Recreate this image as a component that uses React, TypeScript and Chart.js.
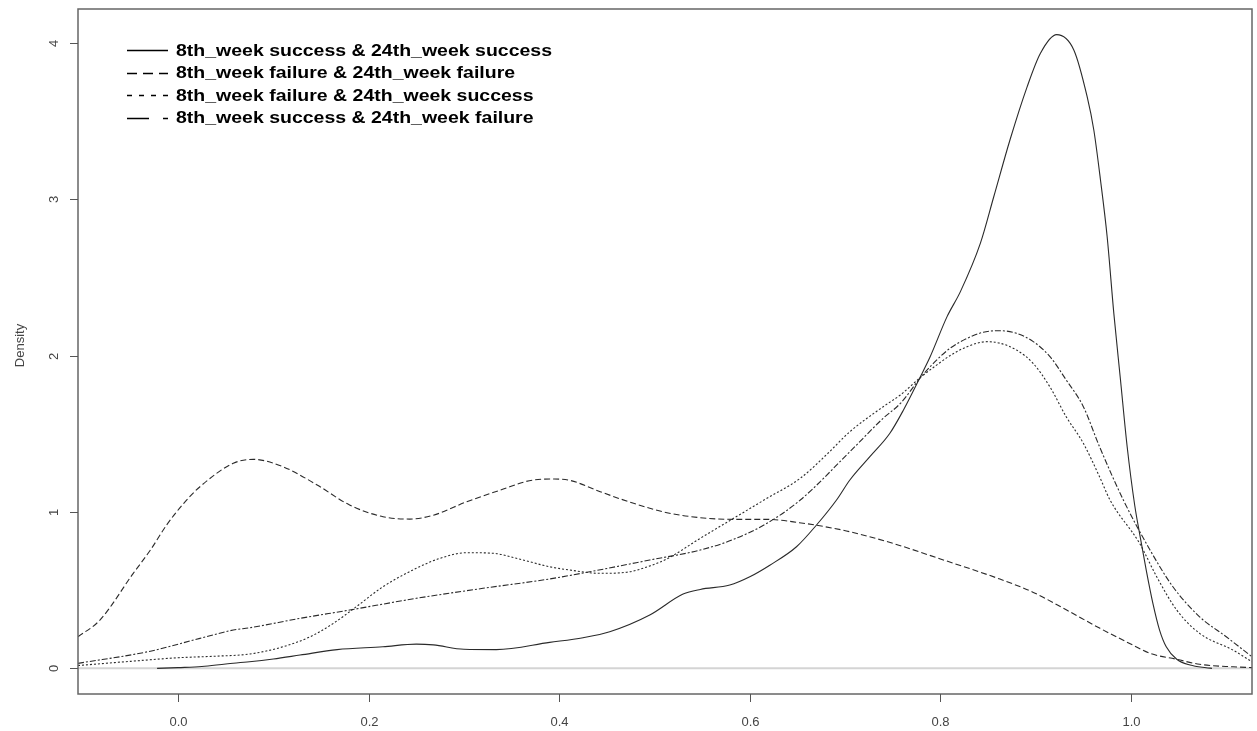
import { useEffect, useRef } from "react";
import { Chart, registerables } from "chart.js";

Chart.register(...registerables);

// Kernel density estimates of the score, by outcome group
const seriesNames = [
  "8th_week success & 24th_week success",
  "8th_week failure & 24th_week failure",
  "8th_week failure & 24th_week success",
  "8th_week success & 24th_week failure",
];

const successSuccessX = [
  -0.022, 0.0, 0.025, 0.05, 0.075, 0.1, 0.128, 0.167, 0.215, 0.25, 0.268, 0.3, 0.334, 0.39, 0.425,
  0.453, 0.495, 0.53, 0.548, 0.579, 0.6, 0.621, 0.649, 0.67, 0.691, 0.705, 0.726, 0.747, 0.761,
  0.779, 0.789, 0.807, 0.821, 0.842, 0.856, 0.873, 0.891, 0.905, 0.922, 0.94, 0.954, 0.961, 0.968,
  0.975, 0.982, 0.989, 0.996, 1.004, 1.009, 1.016, 1.023, 1.03, 1.037, 1.048, 1.062, 1.079, 1.085,
];
const successSuccessY = [
  0.0, 0.005, 0.012, 0.028, 0.042, 0.06, 0.085, 0.12, 0.138, 0.155, 0.15, 0.122, 0.12, 0.166, 0.196,
  0.234, 0.341, 0.475, 0.505, 0.533, 0.586, 0.66, 0.778, 0.917, 1.077, 1.205, 1.354, 1.504, 1.65,
  1.866, 1.99, 2.25, 2.41, 2.72, 3.017, 3.38, 3.72, 3.935, 4.054, 3.956, 3.657, 3.444, 3.124,
  2.761, 2.271, 1.845, 1.418, 1.04, 0.864, 0.629, 0.416, 0.245, 0.138, 0.058, 0.021, 0.004, 0.0,
];

const failureFailureX = [
  -0.105, -0.082, -0.047, -0.029, -0.012, 0.006, 0.023, 0.058, 0.079, 0.11, 0.146, 0.18, 0.215,
  0.243, 0.268, 0.303, 0.338, 0.373, 0.395, 0.411, 0.443, 0.478, 0.513, 0.548, 0.583, 0.618, 0.652,
  0.688, 0.705, 0.75, 0.8, 0.8625, 0.8975, 0.9325, 0.9675, 1.002, 1.02, 1.048, 1.072, 1.107, 1.127,
];
const failureFailureY = [
  0.202, 0.309, 0.608, 0.757, 0.917, 1.056, 1.162, 1.312, 1.337, 1.29, 1.173, 1.045, 0.97, 0.955,
  0.98, 1.066, 1.14, 1.205, 1.211, 1.203, 1.13, 1.056, 0.996, 0.964, 0.953, 0.953, 0.932, 0.896,
  0.874, 0.8, 0.7, 0.571, 0.486, 0.373, 0.256, 0.149, 0.096, 0.058, 0.026, 0.01, 0.005,
];

const failureSuccessX = [
  -0.105, -0.05, 0.0, 0.04, 0.0755, 0.11, 0.1385, 0.163, 0.187, 0.215, 0.25, 0.275, 0.303, 0.331,
  0.355, 0.39, 0.411, 0.443, 0.471, 0.495, 0.513, 0.548, 0.583, 0.618, 0.653, 0.681, 0.705, 0.74,
  0.758, 0.78, 0.796, 0.81, 0.828, 0.849, 0.8625, 0.88, 0.8975, 0.915, 0.932, 0.95, 0.967, 0.978,
  1.009, 1.027, 1.048, 1.072, 1.107, 1.127,
];
const failureSuccessY = [
  0.018, 0.045, 0.068, 0.078, 0.092, 0.138, 0.202, 0.288, 0.394, 0.522, 0.64, 0.704, 0.74, 0.736,
  0.704, 0.65, 0.629, 0.608, 0.615, 0.655, 0.7, 0.832, 0.96, 1.088, 1.216, 1.37, 1.514, 1.674,
  1.749, 1.866, 1.94, 2.0, 2.058, 2.09, 2.08, 2.036, 1.95, 1.8, 1.61, 1.44, 1.226, 1.077, 0.8,
  0.586, 0.373, 0.224, 0.117, 0.042,
];

const successFailureX = [
  -0.105, -0.029, 0.023, 0.058, 0.0755, 0.128, 0.18, 0.25, 0.32, 0.39, 0.432, 0.495, 0.548, 0.583,
  0.618, 0.653, 0.705, 0.74, 0.758, 0.78, 0.796, 0.81, 0.828, 0.845, 0.8625, 0.88, 0.8975, 0.915,
  0.932, 0.95, 0.967, 0.992, 1.02, 1.044, 1.072, 1.1, 1.127,
];
const successFailureY = [
  0.032, 0.11, 0.192, 0.245, 0.26, 0.32, 0.373, 0.448, 0.512, 0.572, 0.618, 0.693, 0.757, 0.825,
  0.928, 1.077, 1.386, 1.6, 1.695, 1.866, 1.972, 2.047, 2.111, 2.15, 2.16, 2.143, 2.09, 1.994,
  1.845, 1.674, 1.418, 1.077, 0.757, 0.522, 0.33, 0.202, 0.074,
];

const xTicks = [0, 0.2, 0.4, 0.6, 0.8, 1.0];
const xTickLabels = ["0.0", "0.2", "0.4", "0.6", "0.8", "1.0"];
const yTicks = [0, 1, 2, 3, 4];
const yTickLabels = ["0", "1", "2", "3", "4"];
const yTitle = "Density";

const W = 1257;
const H = 731;

const lineDashes: number[][] = [[], [6, 3], [2, 2], [6, 2, 2, 2]];
const legendDashes: number[][] = [[], [10, 6], [5, 7], [22, 14, 5, 40]];

const pairs = (xs: number[], ys: number[]) => xs.map((x, i) => ({ x, y: ys[i] }));

const axisFont = "13px 'Liberation Sans', Arial, sans-serif";
const legendFont = "bold 16px 'Liberation Sans', Arial, sans-serif";
// the legend face is set wide: the first entry spans 376px
const legendFirstWidth = 376;

const frame = {
  id: "rFrame",
  beforeDatasetsDraw(chart: any) {
    const { ctx, chartArea, scales } = chart;
    const y0 = scales.y.getPixelForValue(0);
    ctx.save();
    ctx.strokeStyle = "#d4d4d4";
    ctx.lineWidth = 2;
    ctx.beginPath();
    ctx.moveTo(chartArea.left, y0);
    ctx.lineTo(chartArea.right, y0);
    ctx.stroke();
    ctx.restore();
  },
  afterDraw(chart: any) {
    const { ctx, chartArea, scales } = chart;
    const { left, right, top, bottom } = chartArea;
    ctx.save();

    // plot box
    ctx.strokeStyle = "#666";
    ctx.lineWidth = 1.5;
    ctx.strokeRect(left, top, right - left, bottom - top);

    // x axis ticks and labels
    ctx.strokeStyle = "#555";
    ctx.lineWidth = 1;
    ctx.fillStyle = "#444";
    ctx.font = axisFont;
    ctx.textAlign = "center";
    ctx.textBaseline = "middle";
    xTicks.forEach((v, i) => {
      const px = Math.round(scales.x.getPixelForValue(v)) + 0.5;
      ctx.beginPath();
      ctx.moveTo(px, bottom);
      ctx.lineTo(px, bottom + 8);
      ctx.stroke();
      ctx.fillText(xTickLabels[i], px, bottom + 28);
    });

    // y axis ticks and rotated labels
    yTicks.forEach((v, i) => {
      const py = Math.round(scales.y.getPixelForValue(v)) + 0.5;
      ctx.beginPath();
      ctx.moveTo(left, py);
      ctx.lineTo(left - 8, py);
      ctx.stroke();
      ctx.save();
      ctx.translate(left - 24, py);
      ctx.rotate(-Math.PI / 2);
      ctx.fillText(yTickLabels[i], 0, 0);
      ctx.restore();
    });

    // y axis title
    ctx.save();
    ctx.translate(20, (top + bottom) / 2 - 6);
    ctx.rotate(-Math.PI / 2);
    ctx.fillText(yTitle, 0, 0);
    ctx.restore();

    // legend
    ctx.font = legendFont;
    const sx = legendFirstWidth / ctx.measureText(seriesNames[0]).width;
    ctx.fillStyle = "#000";
    ctx.textAlign = "left";
    ctx.strokeStyle = "#000";
    ctx.lineWidth = 1.5;
    seriesNames.forEach((name, i) => {
      const cy = 50 + i * 22.5;
      ctx.setLineDash(legendDashes[i]);
      ctx.beginPath();
      ctx.moveTo(127, Math.round(cy) + 0.5);
      ctx.lineTo(168, Math.round(cy) + 0.5);
      ctx.stroke();
      ctx.setLineDash([]);
      ctx.save();
      ctx.translate(176, cy + 1);
      ctx.scale(sx, 1.05);
      ctx.fillText(name, 0, 0);
      ctx.restore();
    });

    ctx.restore();
  },
};

export default function App() {
  const canvasRef = useRef<HTMLCanvasElement | null>(null);

  useEffect(() => {
    const canvas = canvasRef.current;
    if (!canvas) return;
    const seriesData = [
      pairs(successSuccessX, successSuccessY),
      pairs(failureFailureX, failureFailureY),
      pairs(failureSuccessX, failureSuccessY),
      pairs(successFailureX, successFailureY),
    ];
    const chart = new Chart(canvas, {
      type: "line",
      data: {
        datasets: seriesData.map((d, i) => ({
          label: seriesNames[i],
          data: d,
          borderColor: "#2a2a2a",
          borderWidth: 1.1,
          borderDash: lineDashes[i],
          pointRadius: 0,
          cubicInterpolationMode: "monotone" as const,
          fill: false,
        })),
      },
      options: {
        animation: false,
        responsive: false,
        devicePixelRatio: 1,
        layout: { padding: { left: 78, right: 5, top: 9, bottom: 37 } },
        plugins: { legend: { display: false }, tooltip: { enabled: false } },
        scales: {
          x: { type: "linear", min: -0.105, max: 1.127, display: false },
          y: { type: "linear", min: -0.164, max: 4.218, display: false },
        },
      },
      plugins: [frame],
    });
    return () => chart.destroy();
  }, []);

  return (
    <div style={{ position: "fixed", left: 0, top: 0, width: W, height: H, background: "#fff" }}>
      <canvas ref={canvasRef} width={W} height={H} style={{ width: W, height: H, display: "block" }} />
    </div>
  );
}
